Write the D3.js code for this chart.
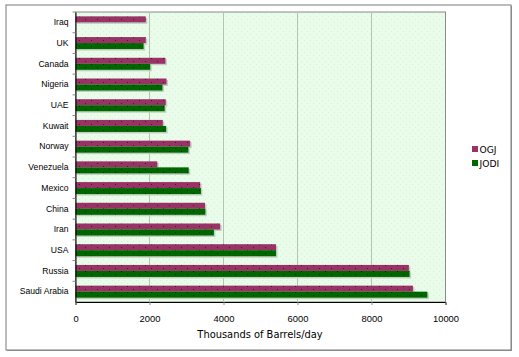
<!DOCTYPE html>
<html><head><meta charset="utf-8">
<script src="https://cdn.jsdelivr.net/npm/d3@7"></script>
<style>body{margin:0;background:#fff;}svg{display:block;font-family:"DejaVu Sans",Verdana,sans-serif;}</style>
</head><body>
<svg id="c" width="519" height="357"></svg>
<script>
const categories = ["Iraq","UK","Canada","Nigeria","UAE","Kuwait","Norway","Venezuela","Mexico","China","Iran","USA","Russia","Saudi Arabia"];
const seriesNames = ["OGJ","JODI"];
const ogj  = [1900,1900,2430,2460,2440,2360,3100,2210,3370,3500,3910,5420,9010,9120];
const jodi = [0,1840,2020,2350,2410,2450,3050,3060,3390,3510,3740,5420,9030,9510];
const xTicks = [0,2000,4000,6000,8000,10000];
const colors = ["#993366","#006600"];

const svg = d3.select("#c");
const defs = svg.append("defs");
function dots(id, bg, dot, w, h){
  const p = defs.append("pattern").attr("id",id).attr("width",w).attr("height",h).attr("patternUnits","userSpaceOnUse");
  p.append("rect").attr("width",w).attr("height",h).attr("fill",bg);
  p.append("rect").attr("x",1).attr("y",1).attr("width",1).attr("height",1).attr("fill",dot);
  p.append("rect").attr("x",Math.floor(w/2)+1).attr("y",Math.floor(h/2)+1).attr("width",1).attr("height",1).attr("fill",dot);
}
dots("pbg","#e9fbe9","#dbeddb",6,6);
dots("p0",colors[0],"#4a1530",12,6);
dots("p1",colors[1],"#003000",12,6);

// outer frame
svg.append("rect").attr("x",7).attr("y",6).attr("width",505).attr("height",345).attr("fill","#9a9a9a");
svg.append("rect").attr("x",6).attr("y",5).attr("width",505).attr("height",345).attr("fill","#fff").attr("stroke","#7a7a7a").attr("stroke-width",1);

const L=75.5, R=445.5, T=12, B=302;
const x = d3.scaleLinear().domain([0,10000]).range([L,R]);
const y = d3.scaleBand().domain(categories).range([T,B]).paddingInner(0.42).paddingOuter(0.21);
const sub = d3.scaleBand().domain(seriesNames).range([0,y.bandwidth()]);

svg.append("rect").attr("x",L).attr("y",T).attr("width",R-L).attr("height",B-T)
  .attr("fill","url(#pbg)").attr("stroke","#8a8a8a");

// grid
svg.append("g").selectAll("line").data(xTicks.slice(1,-1)).join("line")
  .attr("x1",d=>x(d)).attr("x2",d=>x(d)).attr("y1",T).attr("y2",B)
  .attr("stroke","#b4c4b4").attr("stroke-width",1);

const data = [ogj, jodi];
data.forEach((vals,si)=>{
  const g = svg.append("g");
  g.selectAll("rect.s").data(categories).join("rect").attr("class","s")
    .attr("x",x(0)+1.5).attr("y",c=>y(c)+sub(seriesNames[si])+1.5)
    .attr("width",(c,i)=>vals[i]>0?x(vals[i])-x(0):0).attr("height",sub.bandwidth())
    .attr("fill","#c0d0c0");
});
data.forEach((vals,si)=>{
  svg.append("g").selectAll("rect").data(categories).join("rect")
    .attr("x",x(0)).attr("y",c=>y(c)+sub(seriesNames[si]))
    .attr("width",(c,i)=>x(vals[i])-x(0)).attr("height",sub.bandwidth())
    .attr("fill",`url(#p${si})`);
});

// axes
const xa = svg.append("g").attr("transform",`translate(0,${B})`)
  .call(d3.axisBottom(x).tickValues(xTicks).tickSize(3).tickFormat(d3.format("d")).tickPadding(10));
xa.select(".domain").attr("stroke","#000");
xa.selectAll(".tick line").attr("stroke","#888");
xa.selectAll("text").attr("font-size",9.4).attr("fill","#000");

const ya = svg.append("g").attr("transform",`translate(${L},0)`)
  .call(d3.axisLeft(y).tickSize(0).tickPadding(7));
ya.select(".domain").attr("stroke","#000");
ya.selectAll("text").attr("font-size",8.6).attr("fill","#000");
svg.append("g").selectAll("line").data(categories).join("line")
  .attr("x1",L-3).attr("x2",L).attr("y1",c=>y(c)-y.step()*y.paddingInner()/2).attr("y2",c=>y(c)-y.step()*y.paddingInner()/2)
  .attr("stroke","#888");

svg.append("text").attr("x",260).attr("y",338).attr("text-anchor","middle")
  .attr("font-size",9.9).attr("fill","#000").text("Thousands of Barrels/day");

// legend
const lg = svg.append("g");
seriesNames.forEach((n,i)=>{
  lg.append("rect").attr("x",472).attr("y",146+i*14).attr("width",6).attr("height",6).attr("fill",colors[i]);
  lg.append("text").attr("x",479.5).attr("y",153+i*14).attr("font-size",9.2).attr("fill","#000").text(n);
});
</script>
</body></html>
